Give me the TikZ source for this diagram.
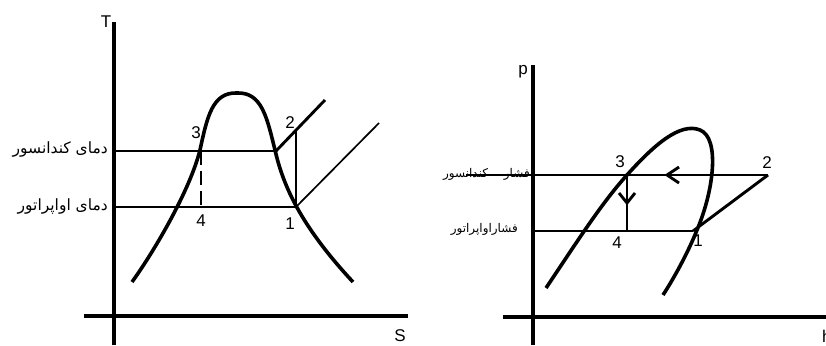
\documentclass[tikz,border=0pt]{standalone}
\usepackage{fontspec}
\usetikzlibrary{calc}
\setmainfont{Liberation Sans}
\newfontfamily\arabicfont[Script=Arabic]{DejaVu Sans}
\TeXXeTstate=1
\begin{document}
\begin{tikzpicture}[x=1pt,y=-1pt,
  axisln/.style={line width=3.3pt},
  curveln/.style={line width=3.6pt},
  isoln/.style={line width=2.9pt},
  thinln/.style={line width=1.7pt},
  num/.style={font=\fontsize{17}{17}\selectfont, inner sep=0pt},
  falbl/.style={font=\arabicfont\fontsize{15.5}{17}\selectfont, inner sep=0pt, anchor=east},
  fasmall/.style={font=\arabicfont\fontsize{12}{14}\selectfont, inner sep=0pt, anchor=east},
  tipln/.style={line width=2.9pt}]
\fill[white] (0,0) rectangle (826,345);
\useasboundingbox (0,0) rectangle (826,345);
% ---------- left T-s diagram ----------
\coordinate (Tb) at (114,345);
\coordinate (Tt) at (114,22);
\coordinate (Sl) at (84,316);
\coordinate (Sr) at (408,316);
\draw[axisln] (Tb) -- (Tt);
\draw[axisln] (Sl) -- (Sr);
\node[num] (T) at (106,22) {T};
\node[num] (S) at (400,336) {S};
\draw[curveln] (132,282) .. controls (155,250) and (190,190) .. (200,150)
  .. controls (207,118) and (212,92) .. (237,93)
  .. controls (262,92) and (267,118) .. (275,150)
  .. controls (283,185) and (300,225) .. (353,282);
\coordinate (L3) at (201,151);
\coordinate (L4) at (201,207);
\coordinate (L1) at (296,207);
\coordinate (L2) at (296,131);
\coordinate (Lg) at (276,151);
\coordinate (Lc) at (114,151);
\coordinate (Le) at (114,207);
\coordinate (Ls) at (325,100);
\coordinate (Lt) at (379,123);
\draw[isoln] (Lc) -- (Lg);
\draw[isoln] (Le) -- (L1);
\draw[isoln] (Lg) -- (Ls);
\draw[isoln] (L1) -- (L2);
\draw[thinln] (L1) -- (Lt);
\draw[isoln, dash pattern=on 14pt off 6pt] (L3) -- (L4);
\node[num] (n3) at (196,133) {3};
\node[num] (n2) at (290,123) {2};
\node[num] (n4) at (201,221) {4};
\node[num] (n1) at (290,224) {1};
\node[falbl] (tc) at (108,150) {\beginR دمای کندانسور\endR};
\node[falbl] (te) at (108,207) {\beginR دمای اواپراتور\endR};
% ---------- right p-h diagram ----------
\coordinate (Pb) at (533,345);
\coordinate (Pt) at (533,65);
\coordinate (Hl) at (503,317);
\coordinate (Hr) at (826,317);
\draw[axisln] (Pb) -- (Pt);
\draw[axisln] (Hl) -- (Hr);
\node[num] (p) at (523,72) {p};
\node[num, anchor=west] (h) at (822,336) {h};
\draw[curveln] (546,288) .. controls (575,245) and (600,205) .. (627,175)
  .. controls (654,145) and (680,122) .. (700,130)
  .. controls (720,138) and (714,190) .. (697,230)
  .. controls (689,250) and (676,275) .. (663,295);
\coordinate (R3) at (627,175);
\coordinate (R2) at (768,175);
\coordinate (R4) at (627,231);
\coordinate (R1) at (693,231);
\coordinate (Rc) at (533,175);
\coordinate (Rx) at (466,175);
\coordinate (Re) at (533,231);
\coordinate (Ra) at (667,175);
\coordinate (Rd) at (627,203);
\draw[thinln] (Rx) -- (Rc);
\draw[isoln] (Rc) -- (Ra);
\draw[line width=2.4pt] (Ra) -- (R2);
\draw[isoln] (Re) -- (R1);
\draw[isoln] (R1) -- (R2);
\draw[isoln] (R3) -- (R4);
\draw[tipln] ($(Ra)+(12,-8)$) -- (Ra) -- ($(Ra)+(12,8)$);
\draw[tipln] ($(Rd)+(-8,-10)$) -- (Rd) -- ($(Rd)+(8,-10)$);
\node[num] (m3) at (620,162) {3};
\node[num] (m2) at (767,163) {2};
\node[num] (m4) at (617,243) {4};
\node[num] (m1) at (698,241) {1};
\node[fasmall] (pc) at (530,174) {\beginR فشار\hspace{12pt} کندانسور\endR};
\node[fasmall] (pe) at (518,229) {\beginR فشاراواپراتور\endR};
\end{tikzpicture}
\end{document}
